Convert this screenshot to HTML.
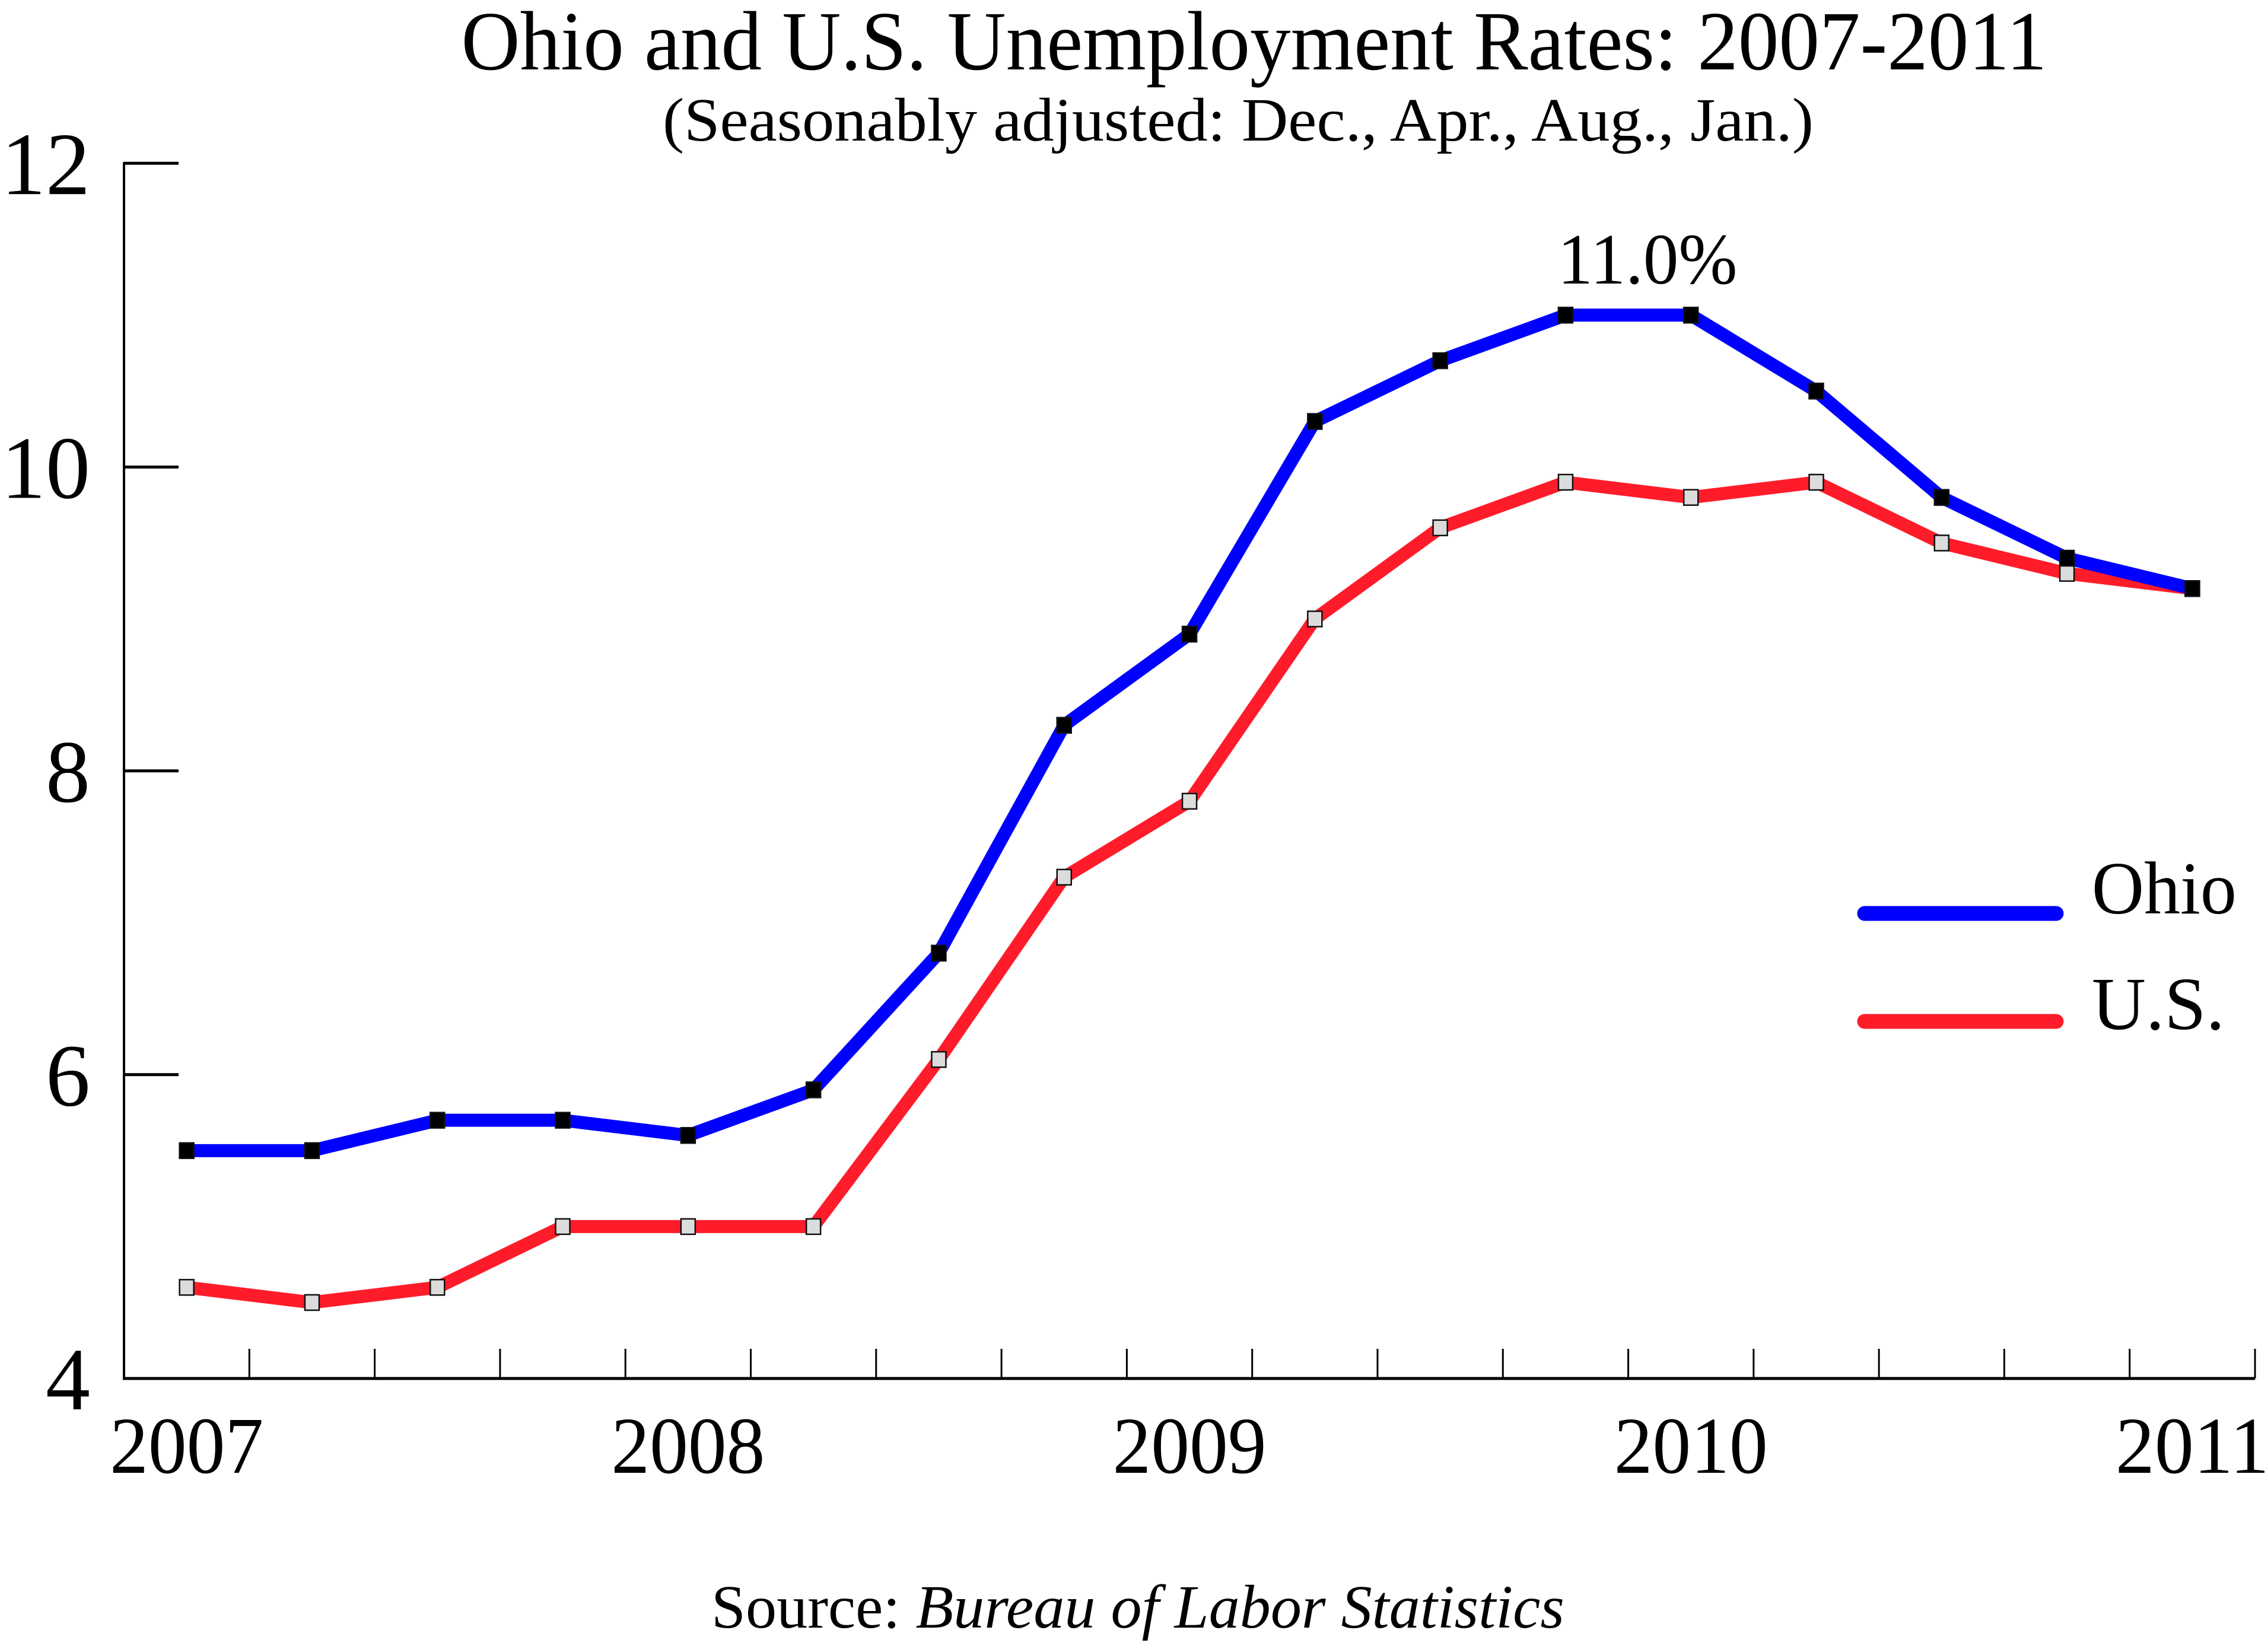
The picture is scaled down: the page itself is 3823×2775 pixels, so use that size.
<!DOCTYPE html>
<html><head><meta charset="utf-8"><style>
html,body{margin:0;padding:0;background:#fff;}
svg{display:block;}
text{font-family:"Liberation Serif",serif;fill:#000;}
</style></head><body>
<svg id="chart" width="3823" height="2775" viewBox="0 0 3823 2775" xmlns="http://www.w3.org/2000/svg">
<rect width="3823" height="2775" fill="#fff"/>
<text x="2114" y="117" font-size="142" text-anchor="middle" textLength="2673" lengthAdjust="spacingAndGlyphs">Ohio and U.S. Unemployment Rates: 2007-2011</text>
<text x="2087" y="237" font-size="104" text-anchor="middle" textLength="1940" lengthAdjust="spacingAndGlyphs">(Seasonably adjusted: Dec., Apr., Aug., Jan.)</text>
<g id="axes"></g>
<g id="series"></g>
<text x="2777" y="478" font-size="122" text-anchor="middle" textLength="303" lengthAdjust="spacingAndGlyphs">11.0%</text>
<g>
<line x1="3143" y1="1540" x2="3466" y2="1540" stroke="#0000ff" stroke-width="25" stroke-linecap="round"/>
<text x="3526" y="1540" font-size="126" textLength="244" lengthAdjust="spacingAndGlyphs">Ohio</text>
<line x1="3143" y1="1722" x2="3466" y2="1722" stroke="#ff1c2a" stroke-width="25" stroke-linecap="round"/>
<text x="3526" y="1735" font-size="126">U.S.</text>
</g>
<text x="1918" y="2744" font-size="104" text-anchor="middle" textLength="1438" lengthAdjust="spacingAndGlyphs">Source: <tspan font-style="italic">Bureau of Labor Statistics</tspan></text>
</svg>
<script>
const ohioValues = [5.5,5.5,5.7,5.7,5.6,5.9,6.8,8.3,8.9,10.3,10.7,11.0,11.0,10.5,9.8,9.4,9.2];
const usValues = [4.6,4.5,4.6,5.0,5.0,5.0,6.1,7.3,7.8,9.0,9.6,9.9,9.8,9.9,9.5,9.3,9.2];
const yTicks = [4,6,8,10,12];
const yearLabels = ["2007","2008","2009","2010","2011"];

const NS = "http://www.w3.org/2000/svg";
const X0 = 209, STEP = 211.3, Y4 = 2324, PER = 256.1;
function xPos(i){ return X0 + STEP*(i+0.5); }
function yPos(v){ return Y4 - (v-4)*PER; }
function mk(tag, attrs, parent){ const e=document.createElementNS(NS,tag); for(const k in attrs) e.setAttribute(k,attrs[k]); parent.appendChild(e); return e; }

const axes = document.getElementById('axes');
let el = mk('line',{x1:X0,y1:yPos(12)-2,x2:X0,y2:Y4+2,stroke:'#000','stroke-width':4},axes);


el = mk('line',{x1:X0-2,y1:Y4,x2:X0+STEP*17,y2:Y4,stroke:'#000','stroke-width':5},axes);


for(const t of yTicks){
  const y=yPos(t);
  if(t>4){
    el = mk('line',{x1:X0,y1:y,x2:X0+92,y2:y,stroke:'#000','stroke-width':5},axes);
    
    
  }
  el = mk('text',{x:152,y:y+52,'font-size':150,'text-anchor':'end'},axes);
  el.textContent=String(t);
  
  
}
for(let k=1;k<=17;k++){
  const x=X0+STEP*k;
  el = mk('line',{x1:x,y1:Y4-50,x2:x,y2:Y4,stroke:'#000','stroke-width':3},axes);
  
  
}
yearLabels.forEach((lab,j)=>{
  let x = xPos(j*4);
  el = mk('text',{x:x,y:2483,'font-size':136,'text-anchor':'middle',textLength:259,lengthAdjust:'spacingAndGlyphs'},axes);
  el.textContent=lab;
  
  
});

const series = document.getElementById('series');
function drawSeries(vals,color,fill,name){
  const pts = vals.map((v,i)=>xPos(i)+','+yPos(v)).join(' ');
  let p = mk('polyline',{points:pts,fill:'none',stroke:color,'stroke-width':22,'stroke-linejoin':'round'},series);
  
  
  vals.forEach((v,i)=>{
    let r = mk('rect',{x:xPos(i)-12,y:yPos(v)-13,width:24,height:26,fill:fill,stroke:'#111','stroke-width':2.5},series);
    
    
  });
}
drawSeries(usValues,'#ff1c2a','#dcdcdc','us');
drawSeries(ohioValues,'#0000ff','#000','ohio');
</script>
</body></html>
